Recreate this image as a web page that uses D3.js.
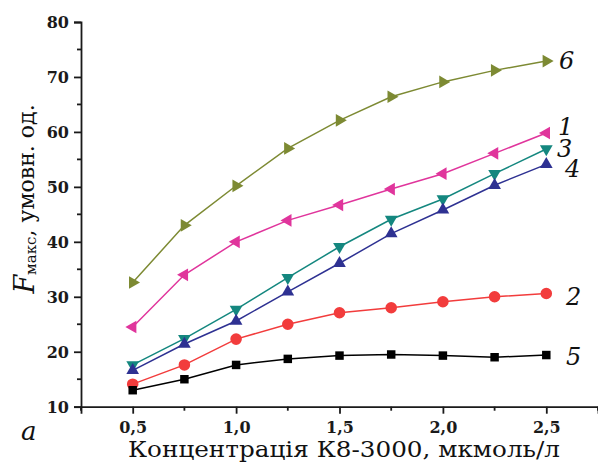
<!DOCTYPE html>
<html>
<head>
<meta charset="utf-8">
<script src="https://cdn.jsdelivr.net/npm/d3@7"></script>
<style>
  body { margin: 0; background: #fff; }
  svg { display: block; }
  text { font-family: "DejaVu Serif", "Liberation Serif", serif; }
</style>
</head>
<body>
<svg id="chart" width="598" height="470"></svg>
<script>
// K8-3000 concentration, мкмоль/л
const concentrations = [0.5, 0.75, 1.0, 1.25, 1.5, 1.75, 2.0, 2.25, 2.5];

// F_max values for each curve
const curve1 = [24.5, 34.0, 40.0, 43.9, 46.7, 49.6, 52.4, 56.1, 59.8];
const curve2 = [14.1, 17.6, 22.3, 25.0, 27.1, 28.0, 29.1, 30.0, 30.6];
const curve3 = [17.6, 22.4, 27.7, 33.5, 39.1, 44.1, 47.8, 52.4, 56.9];
const curve4 = [16.6, 21.4, 25.6, 30.9, 36.1, 41.5, 45.8, 50.3, 54.1];
const curve5 = [13.0, 15.0, 17.6, 18.7, 19.3, 19.5, 19.3, 19.0, 19.4];
const curve6 = [32.6, 43.0, 50.2, 57.0, 62.1, 66.4, 69.1, 71.2, 72.9];

const xTicks = [0.5, 1.0, 1.5, 2.0, 2.5];
const xTickLabels = ["0,5", "1,0", "1,5", "2,0", "2,5"];
const yTicks = [10, 20, 30, 40, 50, 60, 70, 80];

const series = [
  { id: "6", values: curve6, color: "#7d8a33", marker: "right" },
  { id: "1", values: curve1, color: "#e0359c", marker: "left" },
  { id: "3", values: curve3, color: "#14877f", marker: "down" },
  { id: "4", values: curve4, color: "#2e3192", marker: "up" },
  { id: "2", values: curve2, color: "#f23c3c", marker: "circle" },
  { id: "5", values: curve5, color: "#000000", marker: "square" }
];

const svg = d3.select("#chart");
const plotLeft = 81, plotRight = 598, plotTop = 22, plotBottom = 406.7;

const x = d3.scaleLinear().domain([0.25, 2.75]).range([plotLeft, plotRight]);
const y = d3.scaleLinear().domain([10, 80]).range([plotBottom, plotTop]);

// Minor ticks
const xMinor = d3.range(0.25, 2.76, 0.25).filter(v => !xTicks.some(t => Math.abs(t - v) < 1e-6));
const yMinor = d3.range(15, 80, 10);

const axisColor = "#1a1a1a";

// x axis
const gx = svg.append("g").attr("transform", `translate(0,${plotBottom})`);
gx.call(d3.axisBottom(x).tickValues(xTicks).tickSizeOuter(0).tickSize(7)
  .tickFormat((d, i) => xTickLabels[i]).tickPadding(6));
gx.append("g").selectAll("line").data(xMinor).join("line")
  .attr("x1", d => x(d)).attr("x2", d => x(d)).attr("y1", 0).attr("y2", 4);

// y axis
const gy = svg.append("g").attr("transform", `translate(${plotLeft},0)`);
gy.call(d3.axisLeft(y).tickValues(yTicks).tickSizeOuter(0).tickSize(7).tickPadding(5));
gy.append("g").selectAll("line").data(yMinor).join("line")
  .attr("x1", 0).attr("x2", -4).attr("y1", d => y(d)).attr("y2", d => y(d));

[gx, gy].forEach(g => {
  g.select(".domain").attr("stroke", axisColor).attr("stroke-width", 1.8);
  g.selectAll("line").attr("stroke", axisColor).attr("stroke-width", 1.8);
  g.selectAll(".tick text")
    .attr("fill", "#1a1a1a")
    .style("font-family", "'DejaVu Serif', serif")
    .style("font-weight", "bold")
    .style("font-size", "16px");
});
gx.selectAll(".tick text").attr("dy", "0.85em");
gy.selectAll(".tick text").attr("dy", "0.36em");

// Curves
const line = d3.line().x((d, i) => x(concentrations[i])).y(d => y(d));

const triAngle = { up: 0, right: 90, down: 180, left: 270 };

series.forEach(s => {
  const g = svg.append("g");
  g.append("path")
    .attr("d", line(s.values))
    .attr("fill", "none")
    .attr("stroke", s.color)
    .attr("stroke-width", 1.5);

  let sym;
  if (s.marker === "circle") sym = d3.symbol(d3.symbolCircle, 105);
  else if (s.marker === "square") sym = d3.symbol(d3.symbolSquare, 72);
  else sym = d3.symbol(d3.symbolTriangle, 70);

  g.selectAll("path.m").data(s.values).join("path")
    .attr("class", "m")
    .attr("d", sym)
    .attr("fill", s.color)
    .attr("transform", (d, i) => {
      const rot = triAngle[s.marker] !== undefined ? ` rotate(${triAngle[s.marker]})` : "";
      return `translate(${x(concentrations[i])},${y(d)})${rot}`;
    });
});

// Curve numbers
const curveLabels = [
  { t: "6", x: 559, y: 69 },
  { t: "1", x: 558, y: 135 },
  { t: "3", x: 557, y: 157 },
  { t: "4", x: 565, y: 177 },
  { t: "2", x: 566, y: 305 },
  { t: "5", x: 566, y: 365 }
];
svg.append("g").selectAll("text").data(curveLabels).join("text")
  .attr("x", d => d.x).attr("y", d => d.y)
  .style("font-style", "italic")
  .style("font-size", "24px")
  .attr("fill", "#111")
  .text(d => d.t);

// Panel letter
svg.append("text")
  .attr("x", 21).attr("y", 440)
  .style("font-style", "italic")
  .style("font-size", "26px")
  .attr("fill", "#111")
  .text("a");

// X axis title
svg.append("text")
  .attr("x", 344).attr("y", 457)
  .attr("text-anchor", "middle")
  .attr("textLength", 432)
  .attr("lengthAdjust", "spacingAndGlyphs")
  .style("font-size", "23px")
  .attr("fill", "#111")
  .text("Концентрація К8-3000, мкмоль/л");

// Y axis title
const yt = svg.append("text")
  .attr("transform", "translate(34,199) rotate(-90)")
  .attr("text-anchor", "middle")
  .style("font-size", "22px")
  .attr("fill", "#111");
yt.append("tspan").style("font-style", "italic").style("font-size", "27px").text("F");
yt.append("tspan").style("font-size", "15px").attr("dy", "2").text("макс");
yt.append("tspan").attr("dy", "-2").text(", умовн. од.");
</script>
</body>
</html>
